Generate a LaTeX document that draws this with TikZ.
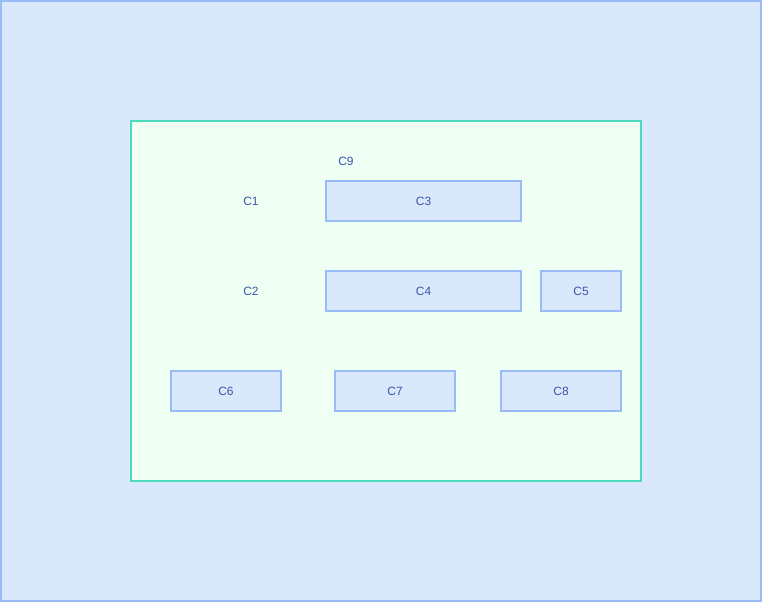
\documentclass[tikz,border=0pt]{standalone}
\usepackage{fontspec}
\setmainfont{Liberation Sans}
\definecolor{bfill}{HTML}{DAE8FC}
\definecolor{bline}{HTML}{99BBF8}
\definecolor{gfill}{HTML}{F0FFF4}
\definecolor{gline}{HTML}{4DDBBB}
\definecolor{txt}{HTML}{3A55A8}
\begin{document}
\begin{tikzpicture}[x=1pt,y=-1pt,
  cbox/.style={draw=bline,fill=bfill,line width=1.5pt},
  lbl/.style={text=txt,font=\fontsize{12}{14}\selectfont,inner sep=0pt}]
\useasboundingbox (0,0) rectangle (762,602);
\draw[cbox] (1,1) rectangle (761,601);
\draw[draw=gline,fill=gfill,line width=1.5pt] (131,121) rectangle (641,481);
\draw[cbox] (326,181) rectangle (521,221);
\draw[cbox] (326,271) rectangle (521,311);
\draw[cbox] (541,271) rectangle (621,311);
\draw[cbox] (171,371) rectangle (281,411);
\draw[cbox] (335,371) rectangle (455,411);
\draw[cbox] (501,371) rectangle (621,411);
\node[lbl] (c9) at (346,161) {C9};
\node[lbl] (c1) at (251,201) {C1};
\node[lbl] (c2) at (251,291) {C2};
\node[lbl] (c3) at (423.5,201) {C3};
\node[lbl] (c4) at (423.5,291) {C4};
\node[lbl] (c5) at (581,291) {C5};
\node[lbl] (c6) at (226,391) {C6};
\node[lbl] (c7) at (395,391) {C7};
\node[lbl] (c8) at (561,391) {C8};
\end{tikzpicture}
\end{document}
